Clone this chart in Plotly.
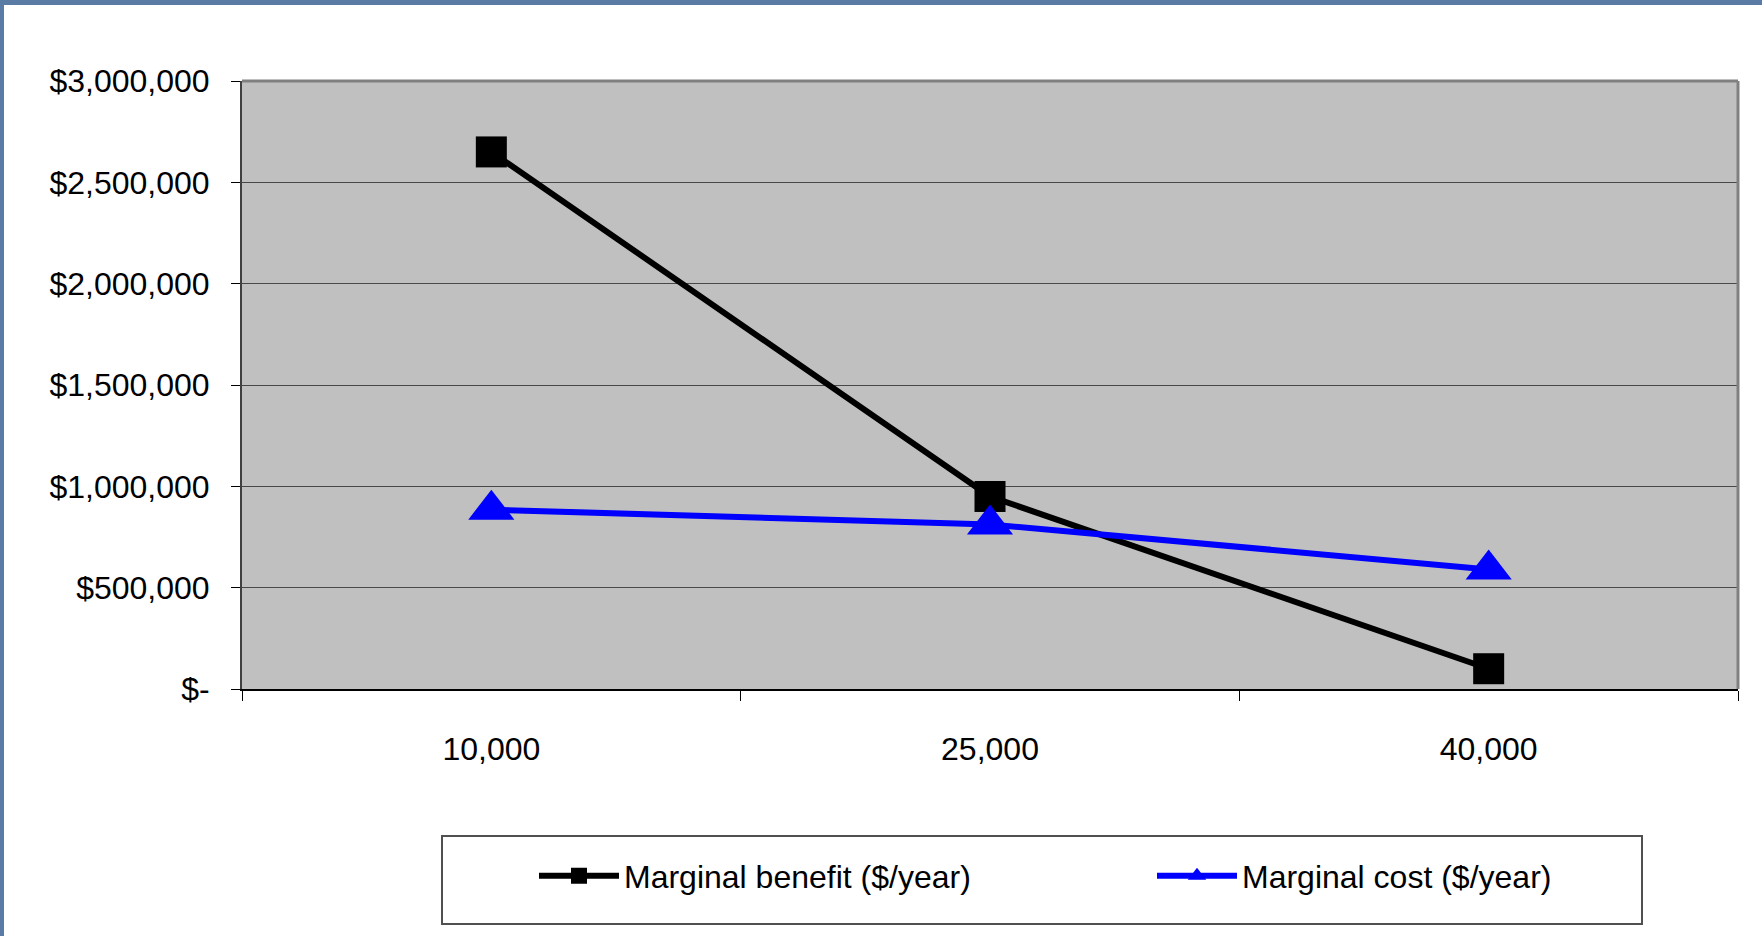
import plotly.graph_objects as go

categories = ["10,000", "25,000", "40,000"]
marginal_benefit = [2650000, 950000, 100000]
marginal_cost = [885000, 812000, 590000]
y_tickvals = [0, 500000, 1000000, 1500000, 2000000, 2500000, 3000000]
y_ticktext = ["$-", "$500,000", "$1,000,000", "$1,500,000", "$2,000,000", "$2,500,000", "$3,000,000"]

FONT = "Liberation Sans Narrow, Arial Narrow, Liberation Sans, Arial, sans-serif"
FS = 32

fig = go.Figure()
fig.add_trace(go.Scatter(
    x=categories, y=marginal_benefit, name="Marginal benefit ($/year)",
    mode="lines+markers",
    line=dict(color="black", width=6),
    marker=dict(symbol="square", size=31, color="black"),
    legend="legend",
))
fig.add_trace(go.Scatter(
    x=categories, y=marginal_cost, name="Marginal cost ($/year)",
    mode="lines+markers",
    line=dict(color="#0000ff", width=6),
    marker=dict(symbol="triangle-up", size=40, color="#0000ff"),
    legend="legend2",
))

W, H = 1762, 936
L, R, T, B = 242, 24, 81, 247
pw, ph = W - L - R, H - T - B

def px_x(x):
    return (x - L) / pw

def px_y(y):
    return (H - B - y) / ph

shapes = [
    # legend box
    dict(type="rect", xref="paper", yref="paper",
         x0=px_x(442), x1=px_x(1642), y0=px_y(836), y1=px_y(924),
         line=dict(color="#505050", width=2), fillcolor="white", layer="below"),
    # frame strips (top / left)
    dict(type="rect", xref="paper", yref="paper",
         x0=px_x(0), x1=px_x(W), y0=px_y(0), y1=px_y(5),
         line=dict(width=0), fillcolor="#5a7ba3"),
    dict(type="rect", xref="paper", yref="paper",
         x0=px_x(0), x1=px_x(4), y0=px_y(0), y1=px_y(H),
         line=dict(width=0), fillcolor="#5a7ba3"),
    # plot area top/right border
    dict(type="line", xref="paper", yref="paper", x0=0, x1=1, y0=1, y1=1,
         line=dict(color="#808080", width=3)),
    dict(type="line", xref="paper", yref="paper", x0=1, x1=1, y0=0, y1=1,
         line=dict(color="#808080", width=3)),
]

leg_common = dict(
    orientation="h",
    bgcolor="rgba(0,0,0,0)",
    borderwidth=0,
    itemwidth=80,
    yanchor="middle",
    font=dict(family=FONT, size=FS, color="black"),
)

fig.update_layout(
    width=W, height=H,
    margin=dict(l=L, r=R, t=T, b=B),
    paper_bgcolor="white",
    plot_bgcolor="#c0c0c0",
    font=dict(family=FONT, size=FS, color="black"),
    showlegend=True,
    legend=dict(leg_common, x=px_x(534), xanchor="left", y=px_y(876)),
    legend2=dict(leg_common, x=px_x(1152), xanchor="left", y=px_y(876)),
    shapes=shapes,
    xaxis=dict(
        type="category",
        range=[-0.5, 2.5],
        tickson="boundaries",
        ticks="outside", ticklen=10, tickwidth=1, tickcolor="black",
        showline=True, linecolor="black", linewidth=2,
        showgrid=False, zeroline=False,
        ticklabelstandoff=31,
        fixedrange=True,
    ),
    yaxis=dict(
        range=[0, 3000000],
        tickvals=y_tickvals, ticktext=y_ticktext,
        ticks="outside", ticklen=9, tickwidth=1, tickcolor="black",
        showline=True, linecolor="#404040", linewidth=2,
        showgrid=True, gridcolor="#484848", gridwidth=1,
        zeroline=False,
        ticklabelstandoff=15,
        fixedrange=True,
    ),
)

fig.write_html(
    "out.html",
    config={"displayModeBar": False},
    post_script="document.body.style.margin='0px';document.body.style.padding='0px';",
)
